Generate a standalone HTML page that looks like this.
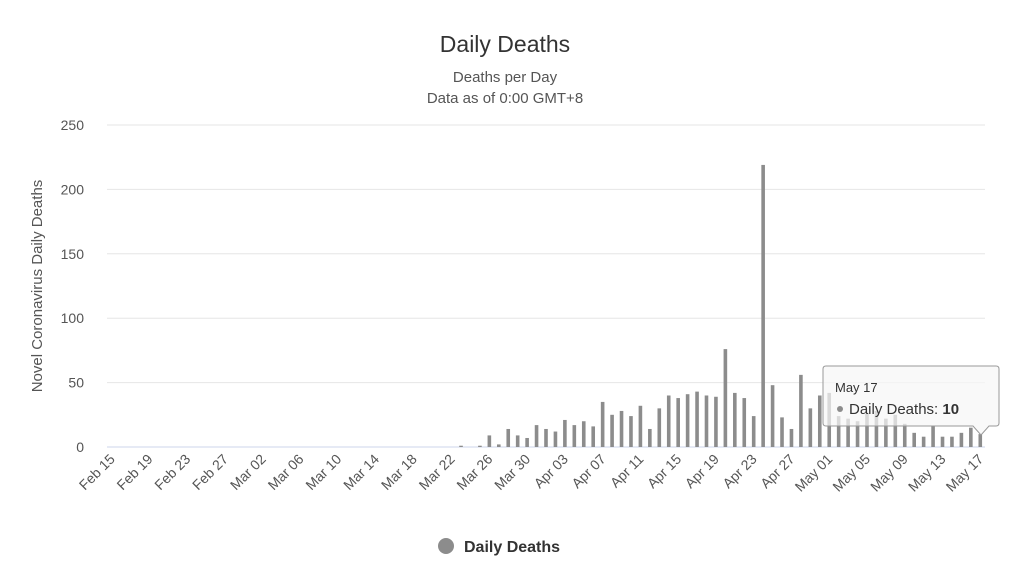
<!DOCTYPE html>
<html><head><meta charset="utf-8"><style>
body{margin:0;background:#fff;font-family:"Liberation Sans",sans-serif;}
svg text{font-family:"Liberation Sans",sans-serif;}
</style></head><body>
<svg id="chart" width="1024" height="579">
<text x="505" y="52" text-anchor="middle" font-size="23" fill="#333">Daily Deaths</text>
<text x="505" y="82" text-anchor="middle" font-size="15" fill="#555">Deaths per Day</text>
<text x="505" y="103" text-anchor="middle" font-size="15" fill="#555">Data as of 0:00 GMT+8</text>
<text transform="translate(42,286) rotate(-90)" text-anchor="middle" font-size="15" fill="#555">Novel Coronavirus Daily Deaths</text>
<g id="grid"></g><g id="bars"></g><g id="xlabels"></g>
<g>
<circle cx="446" cy="546" r="8" fill="#8c8c8c"/>
<text x="464" y="552" font-size="16" font-weight="bold" fill="#333">Daily Deaths</text>
</g>
<g>
<path d="M826,366 H996 Q999,366 999,369 V423 Q999,426 996,426 H989 L981,435 L973,426 H826 Q823,426 823,423 V369 Q823,366 826,366Z" fill="rgba(247,247,247,0.72)" stroke="#999" stroke-width="1"/>
<text x="835" y="392" font-size="13" fill="#333">May 17</text>
<circle cx="840" cy="409" r="3" fill="#8c8c8c"/>
<text x="849" y="414" font-size="15" fill="#333">Daily Deaths: <tspan font-weight="bold">10</tspan></text>
</g>
</svg>
<script>
const startDate = [2020, 1, 15];
const values = [0,0,0,0,0,0,0,0,0,0,0,0,0,0,0,0,0,0,0,0,0,0,0,0,0,0,0,0,0,0,0,0,0,0,0,0,0,
1,0,1,9,2,14,9,7,17,14,12,21,17,20,16,35,25,28,24,32,14,30,40,38,41,43,40,39,76,42,38,24,219,48,23,14,56,30,40,
42,24,22,20,26,28,22,25,18,11,8,16,8,8,11,15,10];
const yTicks = [0,50,100,150,200,250];
const months = ["Jan","Feb","Mar","Apr","May","Jun"];
const ns = "http://www.w3.org/2000/svg";
const X0 = 107, X1 = 985, Y0 = 447, Y1 = 125, YMAX = 250;
const step = (X1 - X0) / values.length;
function xPos(i){ return X0 + (i + 0.5) * step; }
function yPos(v){ return Y0 - (v / YMAX) * (Y0 - Y1); }
function mk(tag, attrs, parent){ const e = document.createElementNS(ns, tag); for (const k in attrs) e.setAttribute(k, attrs[k]); parent.appendChild(e); return e; }
const grid = document.getElementById('grid');
yTicks.forEach(t => {
  const y = yPos(t);
  const l = mk('line', {x1: X0, x2: X1, y1: y, y2: y, stroke: t === 0 ? '#ccd6eb' : '#e6e6e6', 'stroke-width': 1}, grid);
  
  
  const tx = mk('text', {x: 84, y: y + 5, 'text-anchor': 'end', 'font-size': 14, fill: '#555'}, grid);
  tx.textContent = t;
  
  
});
const bars = document.getElementById('bars');
values.forEach((v, i) => {
  const y = yPos(v);
  const r = mk('rect', {x: xPos(i) - 1.8, y: y, width: 3.6, height: Y0 - y, fill: '#8c8c8c'}, bars);
  
  
});
const xl = document.getElementById('xlabels');
for (let i = 0; i < values.length; i += 4) {
  const d = new Date(startDate[0], startDate[1], startDate[2] + i);
  const label = months[d.getMonth()] + ' ' + String(d.getDate()).padStart(2, '0');
  const x = xPos(i) + 4, y = 460;
  const t = mk('text', {x: x, y: y, 'text-anchor': 'end', 'font-size': 14, fill: '#555', transform: `rotate(-45 ${x} ${y})`}, xl);
  t.textContent = label;
  
  
}
</script>
</body></html>
